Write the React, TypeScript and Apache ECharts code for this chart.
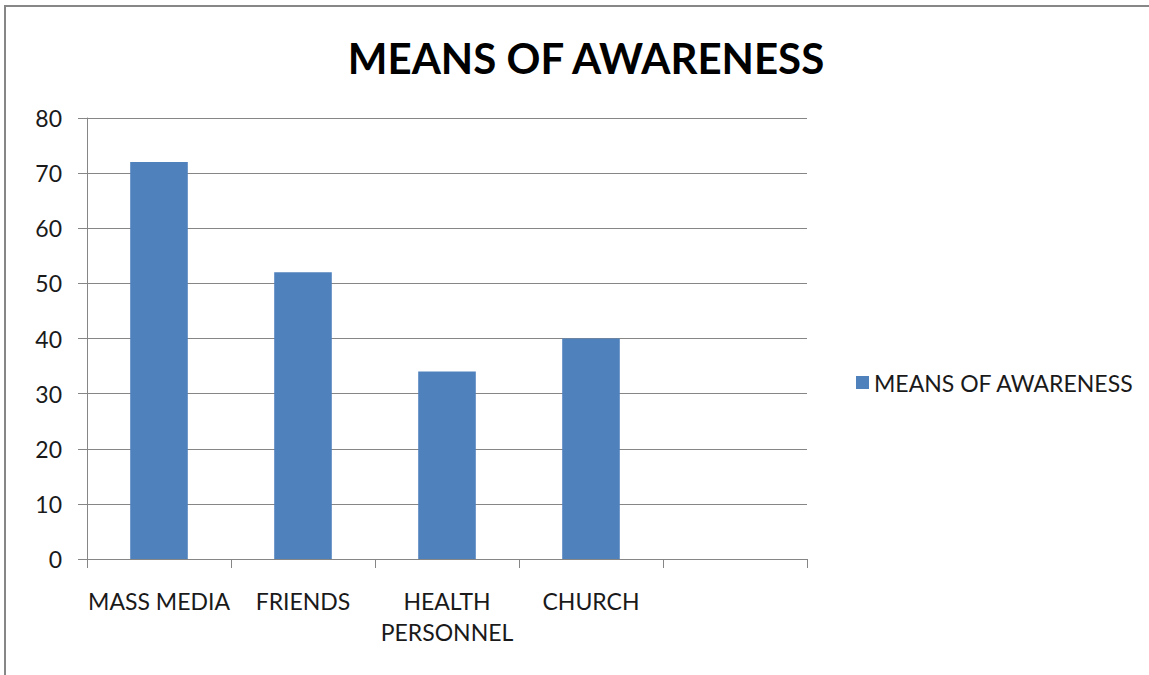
import React, { useEffect, useRef } from "react";
import * as echarts from "echarts";

const categories = ["MASS MEDIA", "FRIENDS", "HEALTH\nPERSONNEL", "CHURCH", ""];
const values: (number | null)[] = [72, 52, 34, 40, null];
const seriesName = "MEANS OF AWARENESS";
const titleText = "MEANS OF AWARENESS";

const FONT = "Lato, 'Open Sans', sans-serif";

export default function App() {
  const ref = useRef<HTMLDivElement>(null);

  useEffect(() => {
    if (!ref.current) return;
    const chart = echarts.init(ref.current, undefined, { renderer: "svg" });
    chart.setOption({
      animation: false,
      backgroundColor: "#ffffff",
      title: {
        text: titleText,
        left: 581,
        top: 32,
        textAlign: "center",
        textStyle: { fontFamily: FONT, fontSize: 42, fontWeight: "bold", color: "#000000" },
      },
      legend: {
        data: [seriesName],
        left: 851,
        top: 366,
        icon: "rect",
        itemWidth: 13,
        itemHeight: 13,
        itemGap: 8,
        textStyle: { fontFamily: FONT, fontSize: 23, color: "#1a1a1a" },
      },
      grid: { left: 87, right: 342, top: 118, bottom: 116, containLabel: false },
      xAxis: {
        type: "category",
        data: categories,
        axisLine: { lineStyle: { color: "#868686", width: 1 } },
        axisTick: { show: true, length: 9, lineStyle: { color: "#868686" } },
        axisLabel: {
          interval: 0,
          margin: 26,
          fontFamily: FONT,
          fontSize: 23,
          color: "#1a1a1a",
          lineHeight: 31,
        },
      },
      yAxis: {
        type: "value",
        min: 0,
        max: 80,
        interval: 10,
        axisLine: { show: true, lineStyle: { color: "#868686", width: 1 } },
        axisTick: { show: true, length: 9, lineStyle: { color: "#868686" } },
        splitLine: { show: true, lineStyle: { color: "#868686", width: 1 } },
        axisLabel: { margin: 25, fontFamily: FONT, fontSize: 23, color: "#1a1a1a" },
      },
      series: [
        {
          name: seriesName,
          type: "bar",
          data: values,
          barWidth: "40%",
          itemStyle: { color: "#4F81BD" },
        },
      ],
      graphic: [
        {
          type: "line",
          shape: { x1: 4, y1: 6, x2: 1149, y2: 6 },
          style: { stroke: "#878787", lineWidth: 2 },
        },
        {
          type: "line",
          shape: { x1: 5, y1: 5, x2: 5, y2: 675 },
          style: { stroke: "#878787", lineWidth: 2 },
        },
      ],
    });
    return () => chart.dispose();
  }, []);

  return (
    <div
      ref={ref}
      style={{ position: "absolute", left: 0, top: 0, width: 1149, height: 675 }}
    />
  );
}
